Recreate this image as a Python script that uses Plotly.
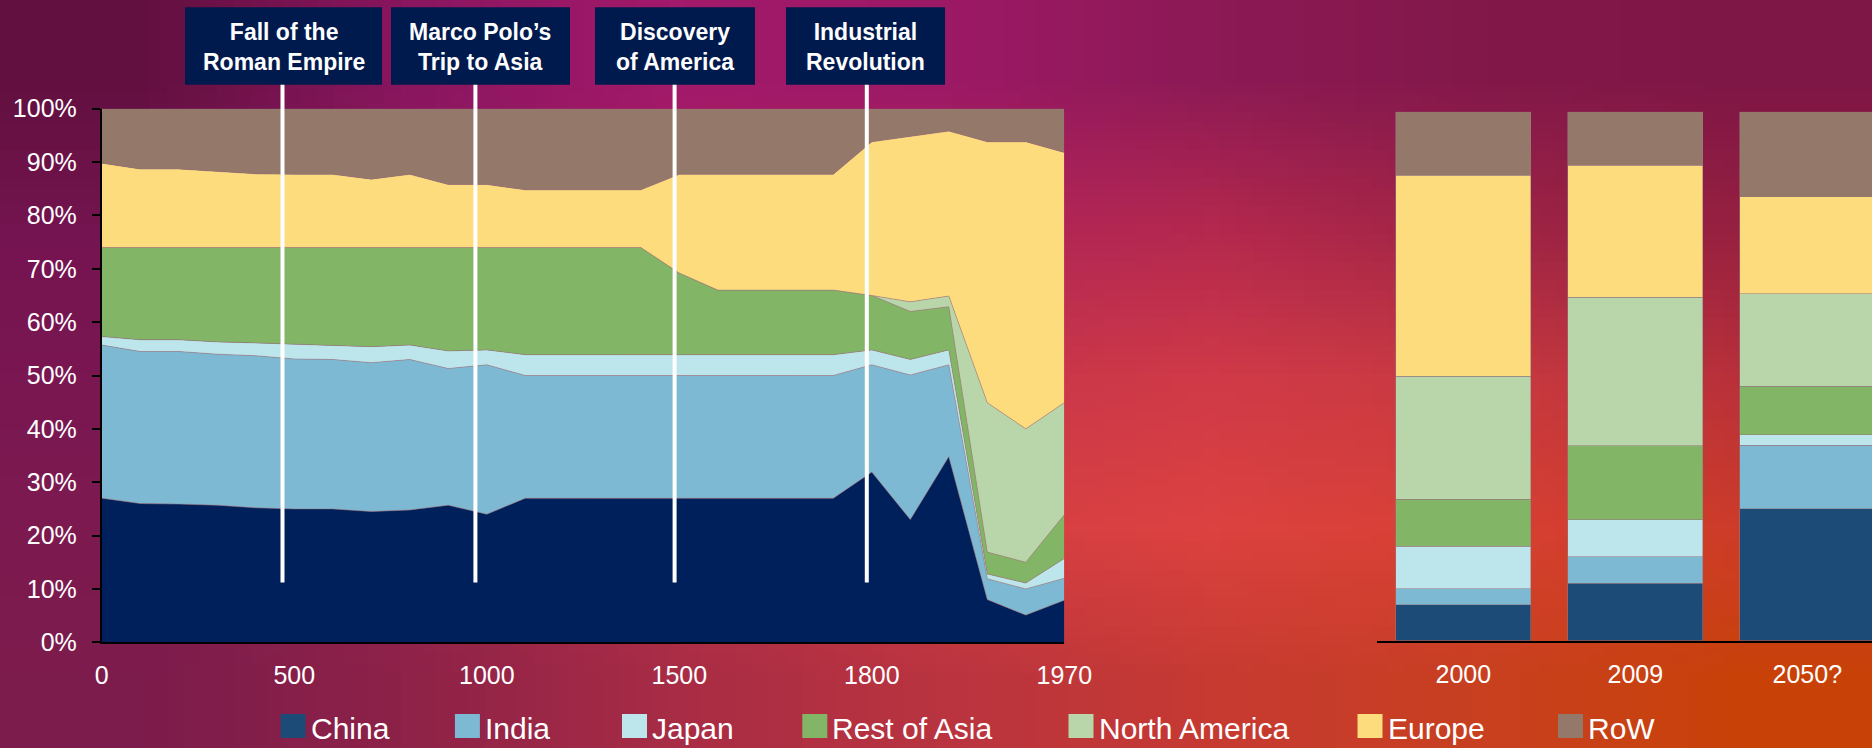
import base64, struct, zlib
import plotly.graph_objects as go

# ---------------- data ----------------
years = ["0", "100", "200", "300", "400", "500", "600", "700", "800", "900", "1000",
         "1100", "1200", "1300", "1400", "1500", "1600", "1650", "1700", "1750", "1800",
         "1820", "1870", "1913", "1950", "1970"]
year_ticks = ["0", "500", "1000", "1500", "1800", "1970"]
pct_ticks = [0, 10, 20, 30, 40, 50, 60, 70, 80, 90, 100]
pct_labels = ["0%", "10%", "20%", "30%", "40%", "50%", "60%", "70%", "80%", "90%", "100%"]

china = [27.0, 26.0, 25.9, 25.7, 25.2, 25.0, 25.0, 24.5, 24.8, 25.7, 24.0, 27.0, 27.0,
         27.0, 27.0, 27.0, 27.0, 27.0, 27.0, 27.0, 31.9, 23.0, 34.8, 8.0, 5.1, 7.9]
india = [28.7, 28.5, 28.6, 28.3, 28.5, 28.1, 28.0, 27.9, 28.2, 25.6, 28.0, 23.0, 23.0,
         23.0, 23.0, 23.0, 23.0, 23.0, 23.0, 23.0, 20.1, 27.1, 17.2, 3.9, 4.9, 4.1]
japan = [1.6, 2.2, 2.2, 2.3, 2.4, 2.8, 2.7, 3.0, 2.7, 3.3, 2.8, 3.9, 3.9,
         3.9, 3.9, 3.9, 3.9, 3.9, 3.9, 3.9, 2.8, 2.9, 2.8, 0.9, 1.1, 3.7]
rest_of_asia = [16.7, 17.3, 17.3, 17.7, 17.9, 18.1, 18.3, 18.6, 18.3, 19.4, 19.2, 20.1, 20.1,
                20.1, 20.1, 15.3, 12.1, 12.1, 12.1, 12.1, 10.2, 9.0, 8.1, 4.1, 3.9, 8.2]
north_america = [0.0, 0.0, 0.0, 0.0, 0.0, 0.0, 0.0, 0.0, 0.0, 0.0, 0.0, 0.0, 0.0,
                 0.0, 0.0, 0.0, 0.0, 0.0, 0.0, 0.0, 0.0, 1.8, 2.0, 28.0, 25.0, 21.0]
europe = [15.8, 14.7, 14.7, 14.3, 13.8, 13.7, 13.7, 12.8, 13.7, 11.8, 11.8, 10.8, 10.8,
          10.8, 10.8, 18.5, 21.7, 21.7, 21.7, 21.7, 28.8, 31.0, 30.9, 48.9, 53.8, 46.9]
rest_of_world = [10.2, 11.3, 11.3, 11.7, 12.2, 12.3, 12.3, 13.2, 12.3, 14.2, 14.2, 15.2, 15.2,
                 15.2, 15.2, 12.3, 12.3, 12.3, 12.3, 12.3, 6.2, 5.2, 4.2, 6.2, 6.2, 8.2]

bar_years = ["2000", "2009", "2050?"]
china_b = [6.8, 10.8, 24.9]
india_b = [3.0, 5.0, 12.0]
japan_b = [8.0, 7.0, 2.0]
rest_of_asia_b = [8.9, 14.0, 9.2]
north_america_b = [23.3, 28.1, 17.5]
europe_b = [38.0, 25.0, 18.3]
rest_of_world_b = [12.0, 10.1, 16.1]

series_names = ["China", "India", "Japan", "Rest of Asia", "North America", "Europe", "RoW"]
events = ["Fall of the<br>Roman Empire", "Marco Polo\u2019s<br>Trip to Asia",
          "Discovery<br>of America", "Industrial<br>Revolution"]

# ---------------- styles ----------------
W, H = 1872, 748
FONT = "Liberation Sans, Arial, sans-serif"
area_colors = ["#00205B", "#7EB9D3", "#BDE6EC", "#82B566", "#B9D6AA", "#FDDC7E", "#94786A"]
bar_colors = ["#1B4B76", "#7EB9D3", "#BDE6EC", "#82B566", "#B9D6AA", "#FDDC7E", "#94786A"]
edge = "rgba(150,120,125,0.75)"
box_color = "#001A4D"

def px_x(x):
    return x / W

def px_y(y):
    return 1 - y / H

# background gradient as a tiny PNG stretched over the canvas
bg_grid = [
    ["#62103F", "#8A1660", "#A3196B", "#9C1966", "#8C1A55", "#82184A", "#7E1646"],
    ["#741450", "#8C1A5C", "#A8205E", "#B0245A", "#B4284E", "#A02545", "#962040"],
    ["#7A1752", "#8E1E55", "#B02A50", "#C8364A", "#D03A48", "#C83A40", "#B8303A"],
    ["#7C1A50", "#922450", "#B8324A", "#D43E44", "#DC4240", "#D84034", "#CC3C28"],
    ["#7C1C4C", "#8E2248", "#A82C45", "#BA3440", "#C63A32", "#C84020", "#C84208"],
]

def make_png(grid):
    raw = b""
    for row in grid:
        raw += b"\x00"
        for c in row:
            raw += bytes(int(c[i:i + 2], 16) for i in (1, 3, 5))

    def chunk(tag, data):
        return (struct.pack(">I", len(data)) + tag + data +
                struct.pack(">I", zlib.crc32(tag + data) & 0xFFFFFFFF))

    png = (b"\x89PNG\r\n\x1a\n" +
           chunk(b"IHDR", struct.pack(">IIBBBBB", len(grid[0]), len(grid), 8, 2, 0, 0, 0)) +
           chunk(b"IDAT", zlib.compress(raw)) + chunk(b"IEND", b""))
    return "data:image/png;base64," + base64.b64encode(png).decode()

fig = go.Figure()

# ---------------- stacked area (left) ----------------
area_series = [china, india, japan, rest_of_asia, north_america, europe, rest_of_world]
for name, vals, col in zip(series_names, area_series, area_colors):
    fig.add_trace(go.Scatter(
        x=years, y=vals, name=name, mode="lines", stackgroup="hist",
        line=dict(width=0.7, color=edge), fillcolor=col,
        showlegend=False, xaxis="x", yaxis="y", hoverinfo="x+y+name"))

# ---------------- stacked bars (right) ----------------
bar_series = [china_b, india_b, japan_b, rest_of_asia_b, north_america_b, europe_b, rest_of_world_b]
for name, vals, col in zip(series_names, bar_series, bar_colors):
    fig.add_trace(go.Bar(
        x=bar_years, y=vals, name=name, marker=dict(color=col, line=dict(width=0.7, color=edge)),
        showlegend=False, xaxis="x2", yaxis="y2"))

# ---------------- decorations ----------------
shapes = []
annotations = []

box_lr = [(185, 382), (391, 570), (595, 755), (786, 945)]
line_x = [282.5, 475.4, 674.6, 866.8]
for (l, r), lx, txt in zip(box_lr, line_x, events):
    shapes.append(dict(type="line", xref="paper", yref="paper",
                       x0=px_x(lx), x1=px_x(lx), y0=px_y(84), y1=px_y(582.5),
                       line=dict(color="white", width=4), layer="above"))
    shapes.append(dict(type="rect", xref="paper", yref="paper",
                       x0=px_x(l), x1=px_x(r), y0=px_y(7.3), y1=px_y(84.7),
                       fillcolor=box_color, line=dict(width=0), layer="above"))
    annotations.append(dict(xref="paper", yref="paper", x=px_x((l + r) / 2), y=px_y(47.5),
                            text="<b>" + txt + "</b>", showarrow=False,
                            xanchor="center", yanchor="middle",
                            font=dict(family=FONT, size=23, color="white")))

legend_x = [280.6, 454.9, 622.0, 802.3, 1068.5, 1357.5, 1558.0]
for name, col, lx in zip(series_names, bar_colors, legend_x):
    shapes.append(dict(type="rect", xref="paper", yref="paper",
                       x0=px_x(lx), x1=px_x(lx + 25), y0=px_y(738), y1=px_y(714),
                       fillcolor=col, line=dict(width=0)))
    annotations.append(dict(xref="paper", yref="paper", x=px_x(lx + 28), y=px_y(728.5),
                            text=name, showarrow=False, xanchor="left", yanchor="middle",
                            font=dict(family=FONT, size=30, color="white")))

fig.update_layout(
    width=W, height=H, autosize=False,
    margin=dict(l=0, r=0, t=0, b=0, pad=0, autoexpand=False),
    paper_bgcolor="#8A1A50", plot_bgcolor="rgba(0,0,0,0)",
    showlegend=False, barmode="stack", bargap=0.215,
    font=dict(family=FONT, color="white"),
    images=[dict(source=make_png(bg_grid), xref="paper", yref="paper", x=0, y=1,
                 sizex=1, sizey=1, sizing="stretch", xanchor="left", yanchor="top",
                 layer="below")],
    shapes=shapes, annotations=annotations,
    xaxis=dict(domain=[px_x(101.8), px_x(1064.3)], type="category",
               categoryorder="array", categoryarray=years, range=[0, len(years) - 1],
               tickmode="array", tickvals=year_ticks, ticktext=year_ticks,
               showgrid=False, zeroline=False, showline=True, linecolor="black",
               linewidth=2, ticks="", ticklabelstandoff=10, automargin=False,
               tickfont=dict(family=FONT, size=25, color="white"), anchor="y"),
    yaxis=dict(domain=[px_y(642.3), px_y(108.7)], range=[0, 100],
               tickmode="array", tickvals=pct_ticks, ticktext=pct_labels,
               showgrid=False, zeroline=False, showline=True, linecolor="black",
               linewidth=2, ticks="outside", ticklen=8, tickwidth=2, tickcolor="black",
               ticklabelstandoff=10, automargin=False,
               tickfont=dict(family=FONT, size=25, color="white"), anchor="x"),
    xaxis2=dict(domain=[px_x(1377.3), 1.0], type="category",
                categoryorder="array", categoryarray=bar_years,
                range=[-0.5, -0.5 + (W - 1377.3) / 172.0],
                showgrid=False, zeroline=False, showline=True, linecolor="black",
                linewidth=2, ticks="", ticklabelstandoff=10, automargin=False,
                tickfont=dict(family=FONT, size=25, color="white"), anchor="y2"),
    yaxis2=dict(domain=[px_y(640.5), px_y(111.7)], range=[0, 100], visible=False,
                anchor="x2", automargin=False),
)

fig.write_html("out.html", config=dict(displayModeBar=False, responsive=False),
               post_script="document.body.style.margin='0px';"
                           "document.body.style.padding='0px';"
                           "document.body.style.overflow='hidden';")
